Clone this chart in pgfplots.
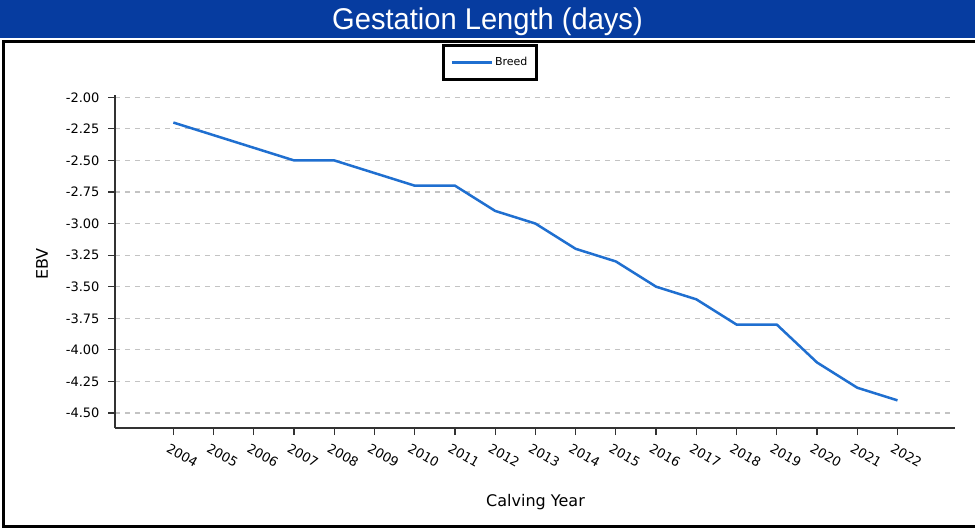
\documentclass[border=0pt]{standalone}
\usepackage{fontspec}
\setmainfont{DejaVu Sans}
\newfontfamily\titlefont{Liberation Sans}
\usepackage{pgfplots}
\pgfplotsset{compat=1.18}
\definecolor{titleblue}{RGB}{6,60,160}
\definecolor{lineblue}{RGB}{31,111,208}
\definecolor{gridgray}{RGB}{195,195,195}
\definecolor{axisgray}{RGB}{50,50,50}

\begin{document}
\begin{tikzpicture}
\useasboundingbox (0,0) rectangle (975pt,-528pt);
\fill[white] (0,0) rectangle (975pt,-528pt);
\fill[titleblue] (0,0) rectangle (975pt,-37.5pt);
\node[anchor=base, text=white, inner sep=0pt, xscale=0.97,
      font=\titlefont\fontsize{30}{36}\selectfont] at (487.5pt,-29.3pt) {Gestation Length (days)};
\draw[line width=3pt] (990pt,-41.5pt) -- (3.5pt,-41.5pt) -- (3.5pt,-526pt) -- (990pt,-526pt);
\begin{axis}[
  at={(115pt,-428pt)}, anchor=south west,
  scale only axis, width=840pt, height=333pt,
  xmin=2002.55, xmax=2023.43, ymin=-4.619, ymax=-1.982,
  axis x line*=bottom, axis y line*=left,
  axis line style={-, line width=1.2pt, axisgray},
  tick align=outside, major tick length=7pt,
  tick style={line width=1.2pt, axisgray},
  /pgf/number format/assume math mode=true,
  xtick={2004,2005,...,2022},
  ytick={-4.5,-4.25,-4,-3.75,-3.5,-3.25,-3,-2.75,-2.5,-2.25,-2},
  xticklabel style={/pgf/number format/1000 sep={}, rotate=-30, anchor=north west,
    font=\fontsize{13}{15}\selectfont, yshift=-5pt, xshift=-2pt},
  yticklabel style={/pgf/number format/.cd, fixed, fixed zerofill, precision=2,
    /tikz/.cd, font=\fontsize{13}{15}\selectfont, xshift=-5pt},
  ymajorgrids,
  major grid style={gridgray, line width=1.2pt, dash pattern=on 5pt off 5pt},
  xlabel={Calving Year}, ylabel={EBV},
  label style={font=\fontsize{16}{18}\selectfont},
  xlabel style={at={(axis description cs:0.5006,-0.2222)}, anchor=center},
  ylabel style={at={(axis description cs:-0.0869,0.4925)}, anchor=center},
  legend image code/.code={\draw[#1] (0pt,0pt) -- (40pt,0pt);},
  legend style={at={(axis description cs:0.4464,1.0976)}, anchor=center,
    draw=black, line width=2.5pt, font=\fontsize{11}{13}\selectfont,
    inner xsep=7pt, inner ysep=10pt,
    nodes={inner sep=2pt}},
  legend cell align=left,
  legend columns=1,
  /tikz/every even column/.append style={column sep=6pt},
]
\addplot[lineblue, line width=2.5pt] coordinates {
  (2004,-2.2) (2005,-2.3) (2006,-2.4) (2007,-2.5) (2008,-2.5) (2009,-2.6)
  (2010,-2.7) (2011,-2.7) (2012,-2.9) (2013,-3.0) (2014,-3.2) (2015,-3.3)
  (2016,-3.5) (2017,-3.6) (2018,-3.8) (2019,-3.8) (2020,-4.1) (2021,-4.3)
  (2022,-4.4)
};
\addlegendentry{Breed}
\end{axis}
\end{tikzpicture}
\end{document}
